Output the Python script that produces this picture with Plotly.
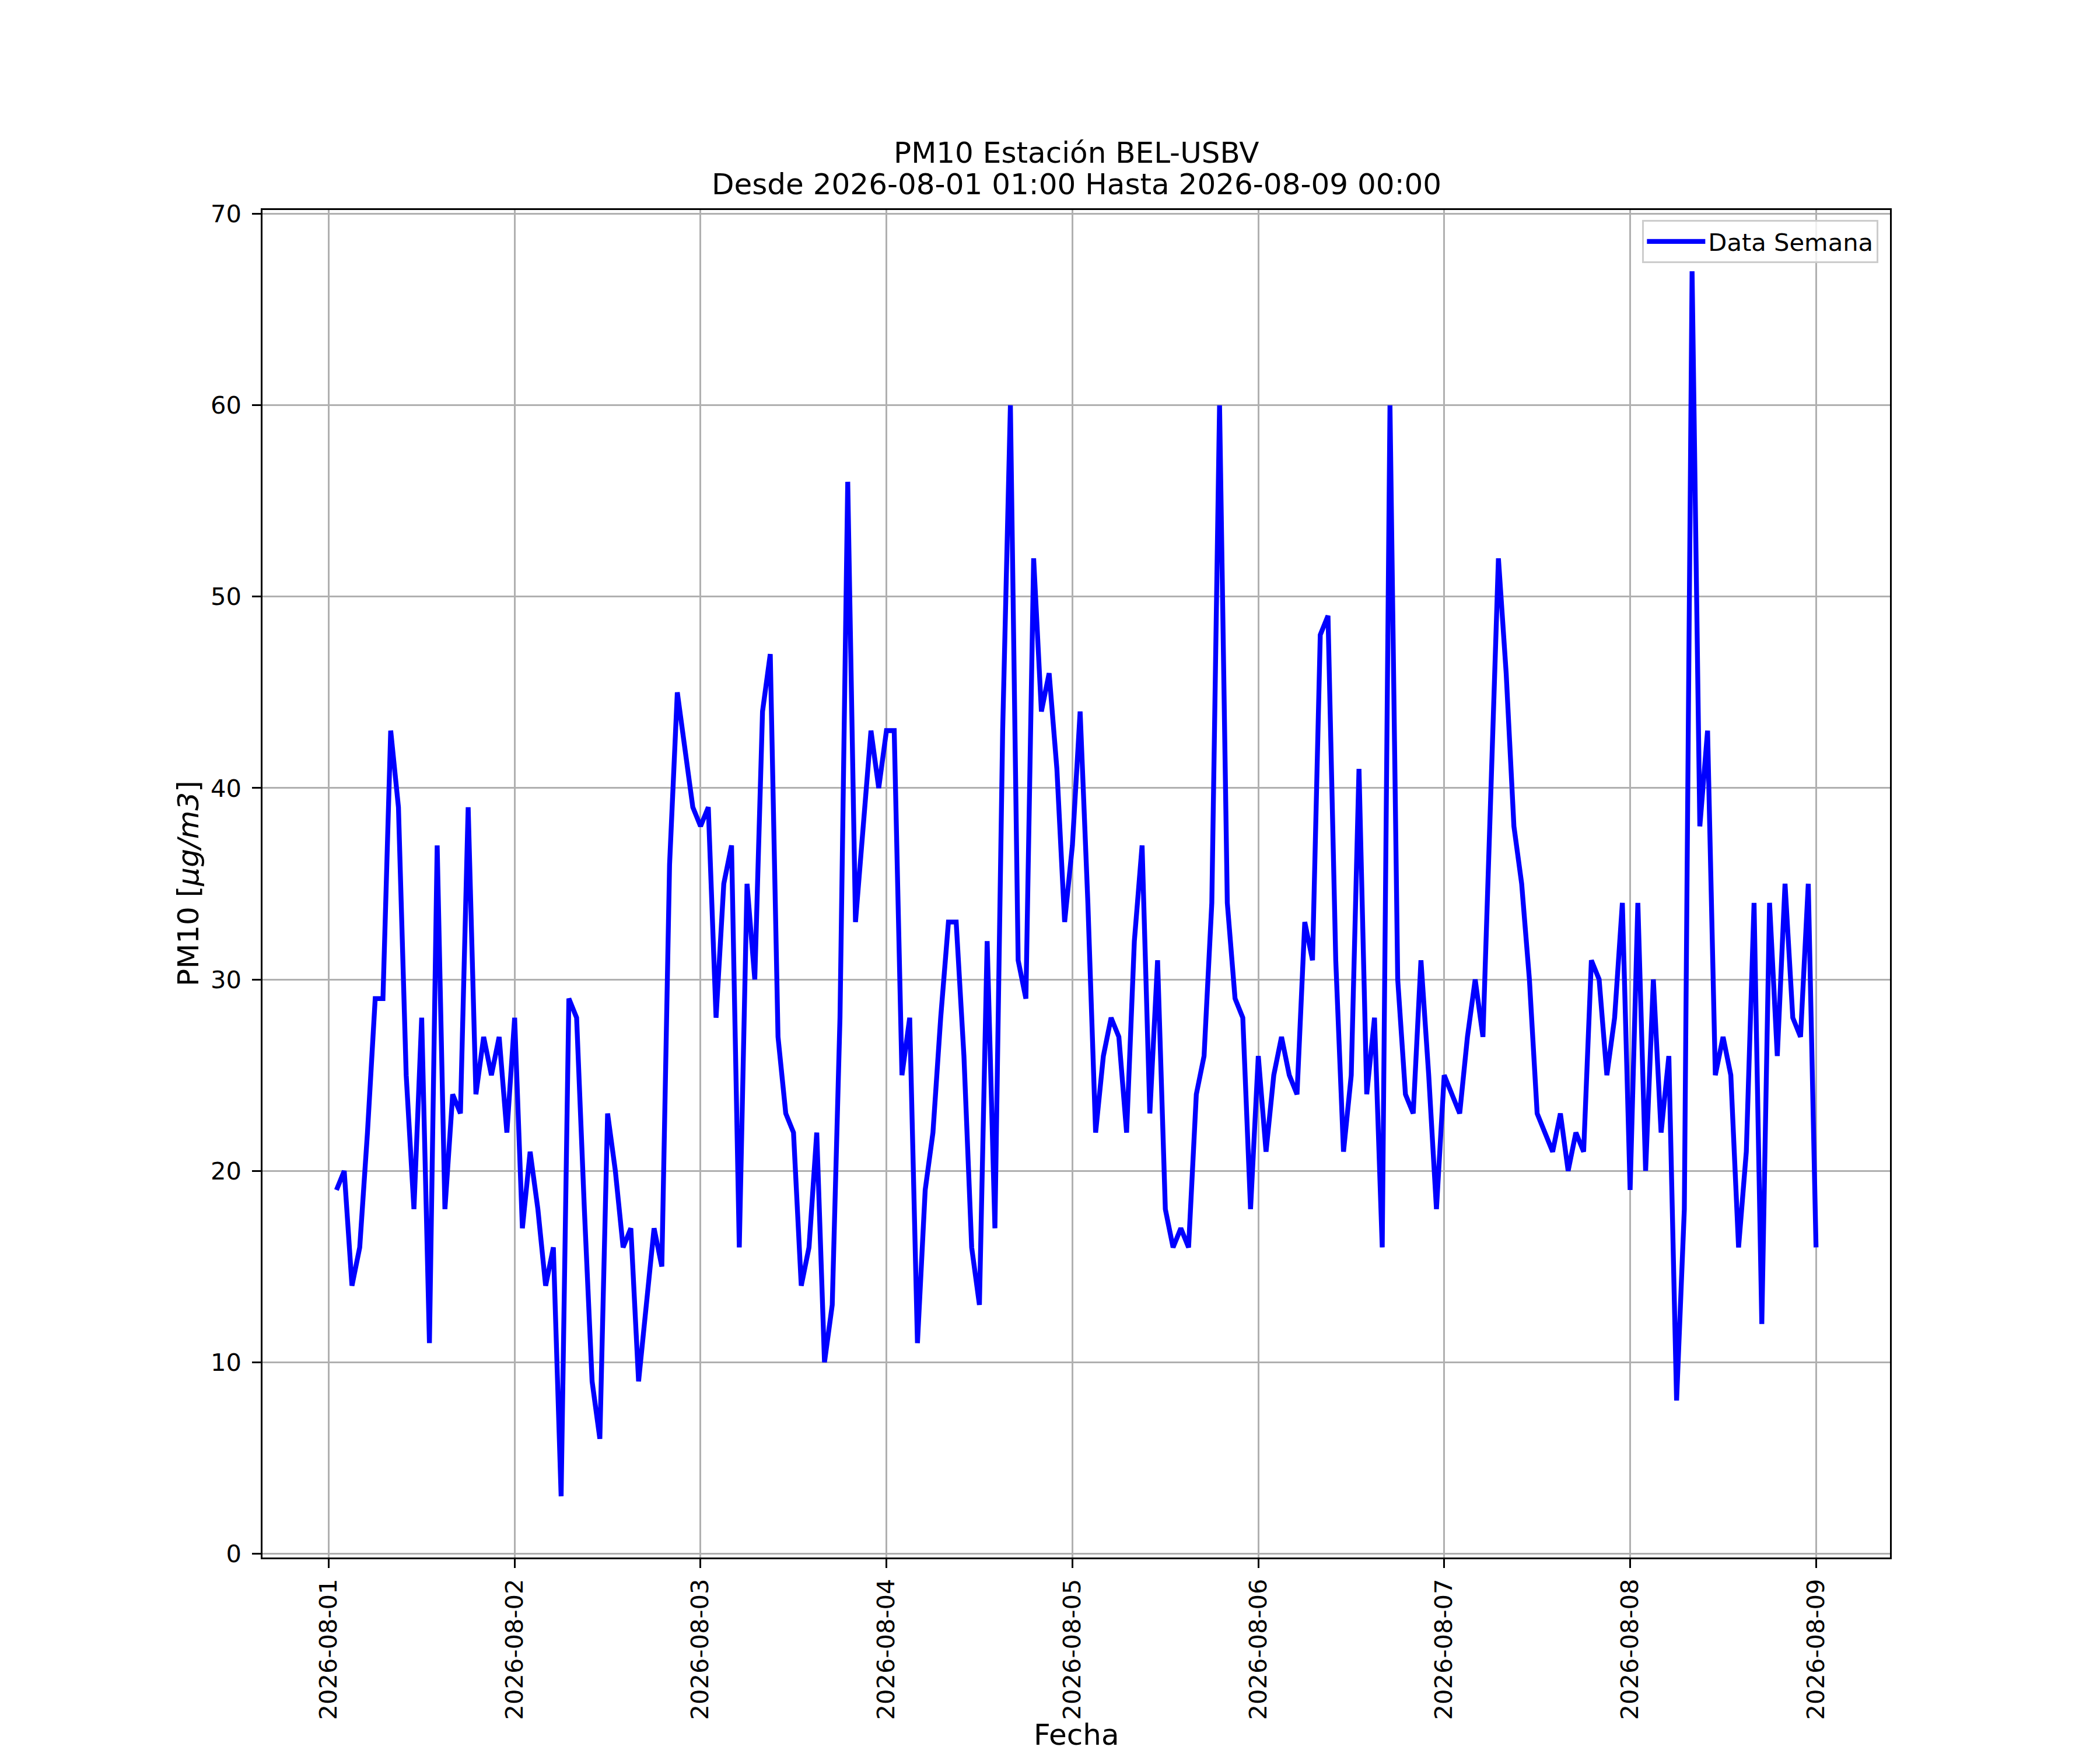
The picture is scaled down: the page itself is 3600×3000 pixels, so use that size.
import pandas as pd
import plotly.graph_objects as go

# PM10 hourly values, one list per day (01:00 .. 00:00 next day)
day1 = [19, 20, 14, 16, 22, 29, 29, 43, 39, 25, 18, 28,
        11, 37, 18, 24, 23, 39, 24, 27, 25, 27, 22, 28]
day2 = [17, 21, 18, 14, 16, 3, 29, 28, 18, 9, 6, 23,
        20, 16, 17, 9, 13, 17, 15, 36, 45, 42, 39, 38]
day3 = [39, 28, 35, 37, 16, 35, 30, 44, 47, 27, 23, 22,
        14, 16, 22, 10, 13, 28, 56, 33, 38, 43, 40, 43]
day4 = [43, 25, 28, 11, 19, 22, 28, 33, 33, 26, 16, 13,
        32, 17, 43, 60, 31, 29, 52, 44, 46, 41, 33, 37]
day5 = [44, 34, 22, 26, 28, 27, 22, 32, 37, 23, 31, 18,
        16, 17, 16, 24, 26, 34, 60, 34, 29, 28, 18, 26]
day6 = [21, 25, 27, 25, 24, 33, 31, 48, 49, 31, 21, 25,
        41, 24, 28, 16, 60, 30, 24, 23, 31, 25, 18, 25]
day7 = [24, 23, 27, 30, 27, 39, 52, 46, 38, 35, 30, 23,
        22, 21, 23, 20, 22, 21, 31, 30, 25, 28, 34, 19]
day8 = [34, 20, 30, 22, 26, 8, 18, 67, 38, 43, 25, 27,
        25, 16, 21, 34, 12, 34, 26, 35, 28, 27, 35, 16]

pm10 = day1 + day2 + day3 + day4 + day5 + day6 + day7 + day8
fechas = pd.date_range("2026-08-01 01:00", periods=len(pm10), freq="h")

tick_dias = pd.date_range("2026-08-01", "2026-08-09", freq="D")
tick_y = list(range(0, 71, 10))

titulo = "PM10 Estación BEL-USBV"
subtitulo = "Desde 2026-08-01 01:00 Hasta 2026-08-09 00:00"

FONT = "DejaVu Sans"
PT = 300 / 72  # matplotlib points -> px at 300 dpi
W, H = 3600, 3000
OFF = 8  # page body margin


# page pixel -> paper fraction (compensating the body margin)
def px(x):
    return (x - OFF) / W


def py(y):
    return 1 - (y - OFF) / H


fig = go.Figure()
fig.add_trace(go.Scatter(
    x=fechas, y=pm10, mode="lines", name="Data Semana",
    line=dict(color="#0000ff", width=2 * PT),
))

# axes styled like matplotlib defaults with grid
axis_common = dict(
    showgrid=True, gridcolor="#b0b0b0", gridwidth=0.8 * PT,
    showline=True, linecolor="black", linewidth=0.8 * PT, mirror=True,
    ticks="outside", ticklen=3.5 * PT, tickwidth=0.8 * PT, tickcolor="black",
    tickfont=dict(family=FONT, size=10 * PT, color="black"),
    zeroline=False,
)

fig.update_xaxes(
    **axis_common,
    domain=[px(450), px(3240)],
    range=["2026-07-31 15:27", "2026-08-09 09:33"],
    tickvals=tick_dias, tickformat="%Y-%m-%d", tickangle=-90,
    ticklabelstandoff=2,
)
fig.update_yaxes(
    **axis_common,
    domain=[py(2670), py(360)],
    range=[-0.2, 70.2],
    tickvals=tick_y,
    ticklabelstandoff=10,
)

anots = [
    dict(text=titulo, x=px(1845), y=py(262), angle=0),
    dict(text=subtitulo, x=px(1845), y=py(316), angle=0),
    dict(text="Fecha", x=px(1845), y=py(2974), angle=0),
    dict(text="PM10 [<i>μg/m3</i>]", x=px(323), y=py(1515), angle=-90),
]
for a in anots:
    fig.add_annotation(
        text=a["text"], x=a["x"], y=a["y"], xref="paper", yref="paper",
        xanchor="center", yanchor="middle", showarrow=False,
        textangle=a["angle"], font=dict(family=FONT, size=12 * PT, color="black"),
    )

fig.update_layout(
    width=W, height=H,
    margin=dict(l=0, r=0, t=0, b=0),
    template="none",
    paper_bgcolor="white", plot_bgcolor="white",
    font=dict(family=FONT, color="black"),
    showlegend=True,
    legend=dict(
        x=px(3220), y=py(377), xanchor="right", yanchor="top",
        bgcolor="rgba(255,255,255,0.8)", bordercolor="#cccccc", borderwidth=0.8 * PT,
        font=dict(family=FONT, size=10 * PT, color="black"),
        itemwidth=100,
    ),
)

fig.write_html("out.html")
